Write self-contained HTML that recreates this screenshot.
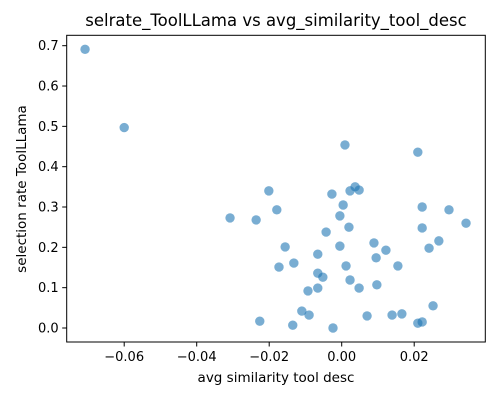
<!DOCTYPE html>
<html><head><meta charset="utf-8"><style>
html,body{margin:0;padding:0;background:#fff;}
svg{display:block;font-family:"DejaVu Sans","Liberation Sans",sans-serif;}
</style></head><body>
<svg id="chart" width="500" height="400" viewBox="0 0 500 400">
<text x="276" y="26" text-anchor="middle" font-size="16.5" fill="#000">selrate_ToolLLama vs avg_similarity_tool_desc</text>
<g id="marks"></g>
<g id="axes"></g>
<text x="276" y="382" text-anchor="middle" font-size="13.5">avg similarity tool desc</text>
<text transform="translate(26,189) rotate(-90)" text-anchor="middle" font-size="13.5">selection rate ToolLLama</text>
</svg>
<script>
const xValues=[-0.0708,-0.0600,0.0009,0.0210,0.0037,0.0023,0.0048,-0.0027,-0.0201,0.0004,0.0222,0.0296,-0.0179,-0.0308,-0.0236,-0.0005,0.0343,0.0020,0.0222,-0.0043,-0.0156,-0.0005,0.0089,0.0122,0.0268,0.0241,-0.0066,0.0095,-0.0132,-0.0173,0.0012,0.0155,-0.0066,-0.0052,0.0023,0.0048,0.0097,-0.0066,-0.0093,0.0252,-0.0110,-0.0090,0.0070,0.0139,0.0166,-0.0226,-0.0135,-0.0024,0.0210,0.0222];
const yValues=[0.691,0.497,0.454,0.436,0.350,0.340,0.342,0.332,0.340,0.305,0.300,0.293,0.293,0.273,0.268,0.278,0.260,0.250,0.248,0.238,0.201,0.203,0.211,0.193,0.216,0.198,0.183,0.174,0.161,0.151,0.154,0.154,0.136,0.126,0.119,0.099,0.107,0.099,0.092,0.055,0.042,0.032,0.030,0.032,0.035,0.017,0.007,0.000,0.012,0.015];
const xTicks=[-0.06,-0.04,-0.02,0.00,0.02];
const xTickLabels=["\u22120.06","\u22120.04","\u22120.02","0.00","0.02"];
const yTicks=[0,0.1,0.2,0.3,0.4,0.5,0.6,0.7];
const yTickLabels=["0.0","0.1","0.2","0.3","0.4","0.5","0.6","0.7"];
const L=66.7,R=485.3,T=35.3,B=342;
function xs(v){return 341.7+v*3625;}
function ys(v){return 328-v*403.3;}
const NS="http://www.w3.org/2000/svg";
const marks=document.getElementById('marks');
xValues.forEach((x,i)=>{
 const c=document.createElementNS(NS,'circle');
 c.setAttribute('cx',xs(x));c.setAttribute('cy',ys(yValues[i]));c.setAttribute('r',4.7);
 c.setAttribute('fill','#1f77b4');c.setAttribute('fill-opacity','0.6');
 
 
 marks.appendChild(c);
});
const axes=document.getElementById('axes');
const frame=document.createElementNS(NS,'rect');
frame.setAttribute('x',L);frame.setAttribute('y',T);frame.setAttribute('width',R-L);frame.setAttribute('height',B-T);
frame.setAttribute('fill','none');frame.setAttribute('stroke','#000');frame.setAttribute('stroke-width','1');


axes.appendChild(frame);
xTicks.forEach((v,i)=>{
 const p=xs(v);
 const l=document.createElementNS(NS,'line');
 l.setAttribute('x1',p);l.setAttribute('x2',p);l.setAttribute('y1',B);l.setAttribute('y2',B+4.5);l.setAttribute('stroke','#000');
 
 
 axes.appendChild(l);
 const t=document.createElementNS(NS,'text');
 t.setAttribute('x',p);t.setAttribute('y',B+19);t.setAttribute('text-anchor','middle');t.setAttribute('font-size','13');
 t.textContent=xTickLabels[i];
 
 
 axes.appendChild(t);
});
yTicks.forEach((v,i)=>{
 const p=ys(v);
 const l=document.createElementNS(NS,'line');
 l.setAttribute('x1',L-4.5);l.setAttribute('x2',L);l.setAttribute('y1',p);l.setAttribute('y2',p);l.setAttribute('stroke','#000');
 
 
 axes.appendChild(l);
 const t=document.createElementNS(NS,'text');
 t.setAttribute('x',L-8);t.setAttribute('y',p+4.5);t.setAttribute('text-anchor','end');t.setAttribute('font-size','13');
 t.textContent=yTickLabels[i];
 
 
 axes.appendChild(t);
});
</script>
</body></html>
